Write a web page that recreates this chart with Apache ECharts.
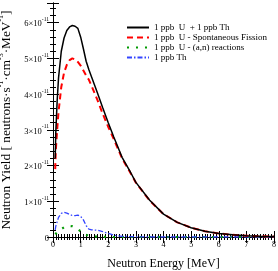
<!DOCTYPE html>
<html><head><meta charset="utf-8">
<script src="https://cdn.jsdelivr.net/npm/echarts@6/dist/echarts.min.js"></script>
<style>html,body{margin:0;padding:0;background:#fff}#c{width:278px;height:271px}</style>
</head><body><div id="c"></div>
<script>
// Values in units of 1e-11 neutrons·s^-1·cm^-3·MeV^-1
var energy = [0.08,0.1,0.15,0.2,0.3,0.4,0.5,0.6,0.7,0.8,0.9,1.0,1.1,1.2,1.3,1.4,1.6,1.8,2.0,2.2,2.5,2.8,3.0,3.5,4.0,4.5,5.0,5.5,6.0,6.5,7.0,7.5,8.0];
var totalUTh = [2.2,2.9,3.8,4.45,5.2,5.57,5.78,5.88,5.92,5.9,5.84,5.6,5.27,4.92,4.68,4.47,4.05,3.62,3.2,2.8,2.23,1.82,1.53,1.03,0.64,0.41,0.26,0.16,0.1,0.06,0.035,0.02,0.012];
var uSpontFission = [1.9,2.4,3.0,3.5,4.2,4.6,4.82,4.95,5.0,4.97,4.9,4.8,4.66,4.52,4.4,4.22,3.85,3.45,3.08,2.74,2.2,1.8,1.52,1.02,0.64,0.41,0.26,0.16,0.1,0.06,0.035,0.02,0.012];
var uAlphaN = [0.08,0.1,0.13,0.16,0.22,0.27,0.3,0.31,0.3,0.26,0.22,0.16,0.1,0.06,0.03,0.02,0.01,0.005,0.002,0,0,0,0,0,0,0,0,0,0,0,0,0,0];
var thorium = [0.2,0.3,0.43,0.55,0.66,0.69,0.67,0.63,0.6,0.6,0.61,0.58,0.48,0.32,0.22,0.2,0.19,0.15,0.1,0.05,0.02,0.01,0.005,0,0,0,0,0,0,0,0,0,0];
var seriesNames = ['1 ppb  U  + 1 ppb Th','1 ppb  U - Spontaneous Fission','1 ppb  U - (a,n) reactions','1 ppb Th'];
var xTicks = [0,1,2,3,4,5,6,7,8];
var yTicks = [0,1,2,3,4,5,6];

function pairs(ys){ return energy.map(function(e,i){ return [e, ys[i]]; }); }
var font = 'Liberation Serif';
var chart = echarts.init(document.getElementById('c'), null, {renderer:'canvas'});
var axisCommon = {
  axisLine:{show:true, lineStyle:{color:'#000', width:1}},
  axisTick:{show:true, inside:true, length:6, lineStyle:{color:'#000', width:1}},
  splitLine:{show:false}, minorSplitLine:{show:false}
};
var xBase = Object.assign({}, axisCommon, {type:'value', min:0, max:8, interval:1, minorTick:{show:true, splitNumber:10, length:3, lineStyle:{color:'#000'}}});
var yBase = Object.assign({}, axisCommon, {type:'value', min:0, max:6.55, interval:1, minorTick:{show:true, splitNumber:5, length:3, lineStyle:{color:'#000'}}});
var option = {
  animation:false,
  backgroundColor:'#fff',
  grid:{left:53, right:4, top:3, bottom:34, containLabel:false, outerBoundsMode:'none'},
  legend:{
    show:true, orient:'vertical', right:6, top:18, itemWidth:22, itemHeight:8, itemGap:1,
    itemStyle:{opacity:0},
    textStyle:{fontFamily:font, fontSize:9, color:'#000', lineHeight:9},
    data:seriesNames
  },
  xAxis:[
    Object.assign({}, xBase, {position:'bottom',
      name:'Neutron Energy [MeV]', nameLocation:'middle', nameGap:21,
      nameTextStyle:{fontFamily:font, fontSize:12, color:'#000'},
      axisLabel:{show:true, fontFamily:font, fontSize:8, color:'#000', margin:4,
        formatter:function(v){ return xTicks.indexOf(v)>=0 ? String(v) : ''; }}}),
    Object.assign({}, xBase, {position:'top', axisLabel:{show:false}})
  ],
  yAxis:[
    Object.assign({}, yBase, {position:'left',
      name:'{n|Neutron Yield [ neutrons·s}{s|-1}{n|·cm}{s|-3}{n|·MeV}{s|-1}{n|]}',
      nameLocation:'middle', nameGap:37,
      nameTextStyle:{fontFamily:font, fontSize:13.3, color:'#000',
        rich:{n:{fontFamily:font, fontSize:13.3, color:'#000', lineHeight:17, verticalAlign:'bottom'},
              s:{fontFamily:font, fontSize:8, color:'#000', lineHeight:17, verticalAlign:'top'}}},
      axisLabel:{show:true, margin:4, color:'#000',
        formatter:function(v){ if(yTicks.indexOf(v)<0) return ''; return v===0 ? '{a|0}' : '{a|'+v+'×10}{s|-11}'; },
        rich:{a:{fontFamily:font, fontSize:8.5, color:'#000', lineHeight:12, verticalAlign:'bottom'},
              s:{fontFamily:font, fontSize:5.5, color:'#000', lineHeight:12, verticalAlign:'top'}}}}),
    Object.assign({}, yBase, {position:'right', axisLabel:{show:false}})
  ],
  series:[
    {name:seriesNames[0], type:'line', data:pairs(totalUTh), showSymbol:false, symbol:'none',
      lineStyle:{color:'#000', width:1.5, type:'solid'}, itemStyle:{color:'#000'}, z:4},
    {name:seriesNames[1], type:'line', data:pairs(uSpontFission), showSymbol:false, symbol:'none',
      lineStyle:{color:'#ff0000', width:2, type:[6,4]}, itemStyle:{color:'#ff0000'}, z:3},
    {name:seriesNames[2], type:'line', data:pairs(uAlphaN), showSymbol:false, symbol:'none',
      lineStyle:{color:'#009900', width:2.2, type:[2,7]}, itemStyle:{color:'#009900'}, z:2},
    {name:seriesNames[3], type:'line', data:pairs(thorium), showSymbol:false, symbol:'none',
      lineStyle:{color:'#3344ff', width:1.3, type:[5,2,1.5,2]}, itemStyle:{color:'#3344ff'}, z:2}
  ]
};
chart.setOption(option);
</script></body></html>
